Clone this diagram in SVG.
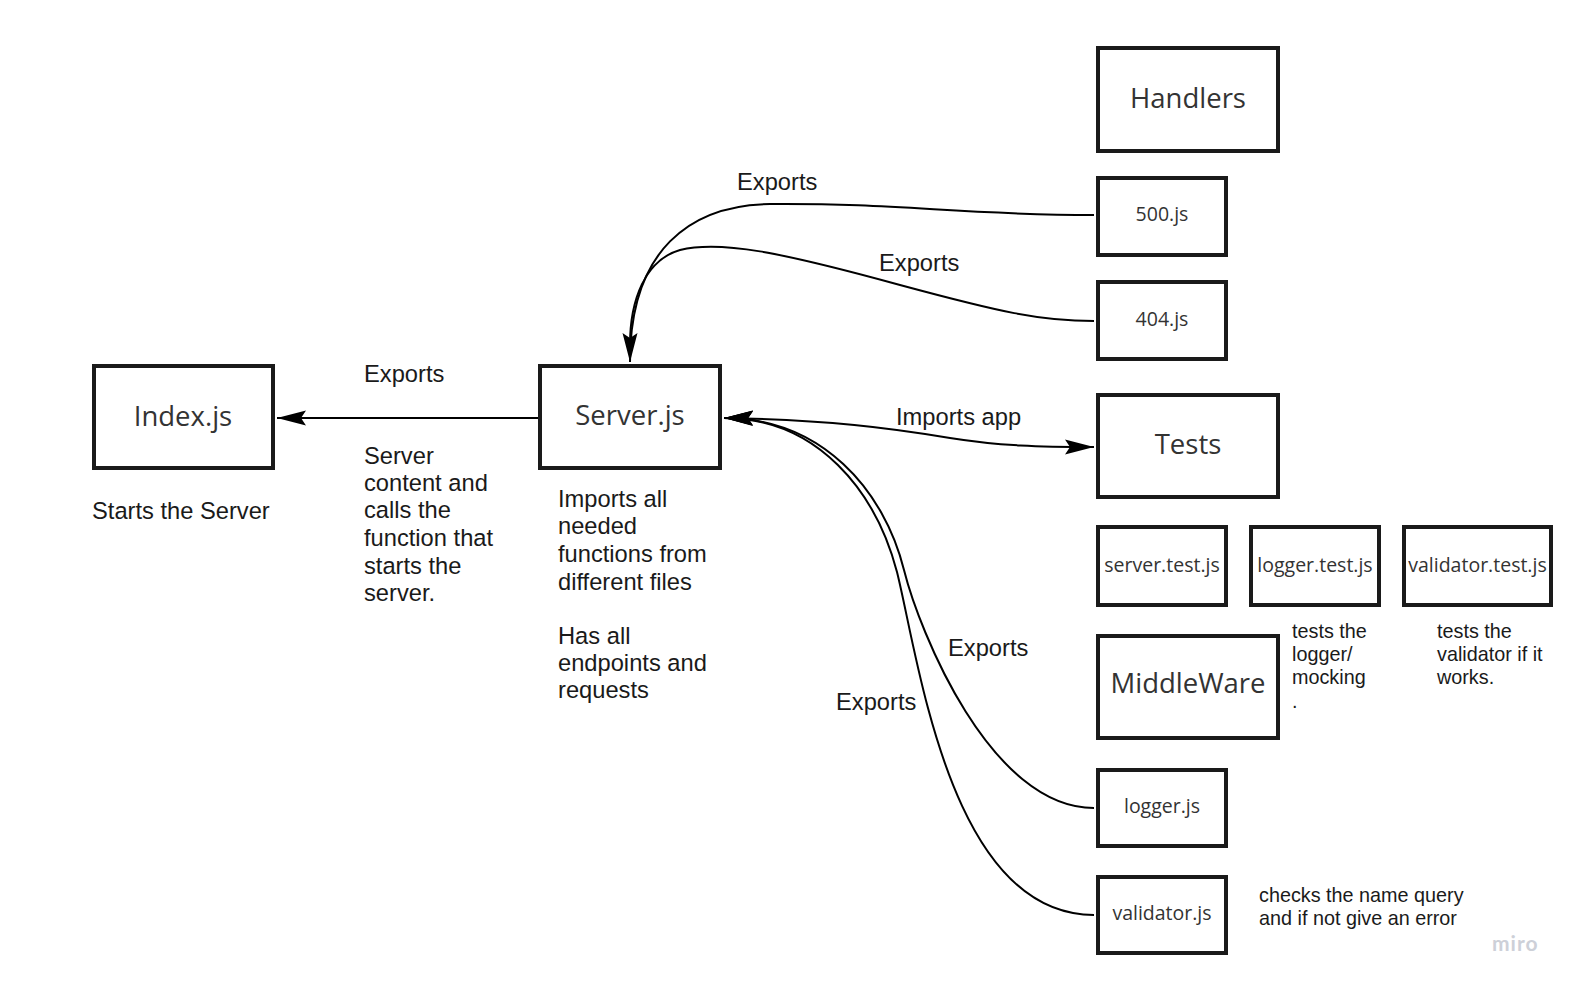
<svg xmlns="http://www.w3.org/2000/svg" width="1578" height="990" viewBox="0 0 1578 990">
  <style>
    .box { fill: #ffffff; stroke: #1a1a1a; stroke-width: 4; }
    .big { font-family: "Open Sans", "DejaVu Sans", sans-serif; font-size: 27.5px; fill: #333333; text-anchor: middle; }
    .small { font-family: "Open Sans", "DejaVu Sans", sans-serif; font-size: 19.5px; fill: #333333; text-anchor: middle; }
    .lbl { font-family: "Liberation Sans", Arial, sans-serif; font-size: 23.7px; fill: #1a1a1a; }
    .note { font-family: "Liberation Sans", Arial, sans-serif; font-size: 19.8px; fill: #1a1a1a; }
    .wire { fill: none; stroke: #000000; stroke-width: 2; }
  </style>
  <defs>
    <marker id="head" markerUnits="userSpaceOnUse" markerWidth="30" markerHeight="16" viewBox="0 0 30 16" refX="29" refY="8" orient="auto-start-reverse">
      <path d="M0,0.5 L29,8 L0,15.5 L5,8 Z" fill="#000000"/>
    </marker>
  </defs>

  <rect width="1578" height="990" fill="#ffffff"/>

  <!-- connectors -->
  <g id="connectors">
    <path class="wire" d="M538,418 L277,418" marker-end="url(#head)"/>
    <path class="wire" d="M1094,215 C960,215 900,203 770,204 C690,205 630,250 630,362" marker-end="url(#head)"/>
    <path class="wire" d="M1094,321 C1040,321 1000,312 900,285 C780,252 720,240 680,250 C645,260 630,300 630,345"/>
    <path class="wire" d="M724,418 C830,420 890,428 950,438 C1000,446 1040,447 1094,447" marker-start="url(#head)" marker-end="url(#head)"/>
    <path class="wire" d="M1094,808 C990,808 919,630 904,570 C884,490 822,418 724,418" marker-end="url(#head)"/>
    <path class="wire" d="M1094,915 C950,915 919,660 897,572 C876,492 818,418 724,418" marker-end="url(#head)"/>

    <text class="lbl" x="364" y="382">Exports</text>
    <text class="lbl" x="737" y="190">Exports</text>
    <text class="lbl" x="879" y="271">Exports</text>
    <text class="lbl" x="896" y="425">Imports app</text>
    <text class="lbl" x="948" y="656">Exports</text>
    <text class="lbl" x="836" y="710">Exports</text>
  </g>

  <!-- nodes -->
  <g id="index">
    <rect class="box" x="94" y="366" width="179" height="102"/>
    <text class="big" x="183" y="426">Index.js</text>
    <text class="lbl" x="92" y="519">Starts the Server</text>
  </g>

  <g id="server">
    <rect class="box" x="540" y="366" width="180" height="102"/>
    <text class="big" x="630" y="425">Server.js</text>
    <text class="lbl" x="558">
      <tspan x="558" y="507">Imports all</tspan>
      <tspan x="558" y="534">needed</tspan>
      <tspan x="558" y="562">functions from</tspan>
      <tspan x="558" y="590">different files</tspan>
      <tspan x="558" y="644">Has all</tspan>
      <tspan x="558" y="671">endpoints and</tspan>
      <tspan x="558" y="698">requests</tspan>
    </text>
  </g>

  <g id="server-note">
    <text class="lbl">
      <tspan x="364" y="464">Server</tspan>
      <tspan x="364" y="491">content and</tspan>
      <tspan x="364" y="518">calls the</tspan>
      <tspan x="364" y="546">function that</tspan>
      <tspan x="364" y="574">starts the</tspan>
      <tspan x="364" y="601">server.</tspan>
    </text>
  </g>

  <g id="handlers">
    <rect class="box" x="1098" y="48" width="180" height="103"/>
    <text class="big" x="1188" y="108">Handlers</text>
  </g>

  <g id="h500">
    <rect class="box" x="1098" y="178" width="128" height="77"/>
    <text class="small" x="1162" y="221">500.js</text>
  </g>

  <g id="h404">
    <rect class="box" x="1098" y="282" width="128" height="77"/>
    <text class="small" x="1162" y="326">404.js</text>
  </g>

  <g id="tests">
    <rect class="box" x="1098" y="395" width="180" height="102"/>
    <text class="big" x="1188" y="454">Tests</text>
  </g>

  <g id="server-test">
    <rect class="box" x="1098" y="527" width="128" height="78"/>
    <text class="small" x="1162" y="572">server.test.js</text>
  </g>

  <g id="logger-test">
    <rect class="box" x="1251" y="527" width="128" height="78"/>
    <text class="small" x="1315" y="572">logger.test.js</text>
    <text class="note">
      <tspan x="1292" y="638">tests the</tspan>
      <tspan x="1292" y="661">logger/</tspan>
      <tspan x="1292" y="684">mocking</tspan>
      <tspan x="1292" y="708">.</tspan>
    </text>
  </g>

  <g id="validator-test">
    <rect class="box" x="1404" y="527" width="147" height="78"/>
    <text class="small" x="1477.5" y="572">validator.test.js</text>
    <text class="note">
      <tspan x="1437" y="638">tests the</tspan>
      <tspan x="1437" y="661">validator if it</tspan>
      <tspan x="1437" y="684">works.</tspan>
    </text>
  </g>

  <g id="middleware">
    <rect class="box" x="1098" y="636" width="180" height="102"/>
    <text class="big" x="1188" y="693">MiddleWare</text>
  </g>

  <g id="logger">
    <rect class="box" x="1098" y="770" width="128" height="76"/>
    <text class="small" x="1162" y="813">logger.js</text>
  </g>

  <g id="validator">
    <rect class="box" x="1098" y="877" width="128" height="76"/>
    <text class="small" x="1162" y="920">validator.js</text>
    <text class="note">
      <tspan x="1259" y="902">checks the name query</tspan>
      <tspan x="1259" y="925">and if not give an error</tspan>
    </text>
  </g>

  <text x="1492" y="951" font-family="Lato, 'Liberation Sans', sans-serif" font-size="21" font-weight="bold" letter-spacing="1" fill="#cdd0d8">miro</text>
</svg>
